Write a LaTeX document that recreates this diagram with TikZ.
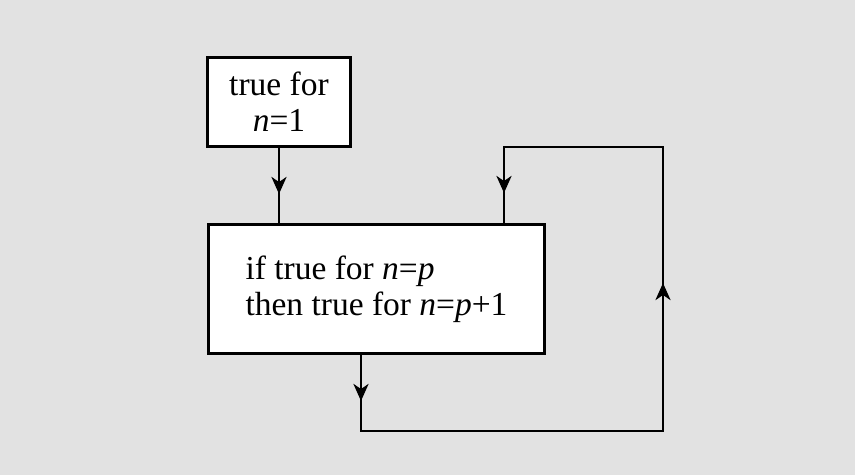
\documentclass[tikz,border=0pt]{standalone}
\usepackage{fontspec}
\setmainfont{Liberation Serif}
\usetikzlibrary{arrows.meta,decorations.markings}
\definecolor{bg}{RGB}{226,226,226}
\tikzset{
  box/.style={draw=black, line width=3pt, fill=white, inner sep=0pt,
    font=\fontsize{33.5}{36}\selectfont},
  wire/.style={line width=2.8pt},
  ahead/.tip={Stealth[length=17pt,width=15pt,inset=5pt]}
}
\begin{document}
\begin{tikzpicture}[x=1pt,y=-1pt]
\useasboundingbox (0,0) rectangle (855,475);
\fill[bg] (0,0) rectangle (855,475);

\node[box, minimum width=143pt, minimum height=89pt, align=center] (b1) at (279,102)
  {true for\\\textit{n}=1};
\node[box, minimum width=336pt, minimum height=129pt, align=left] (b2) at (376.5,289)
  {if true for \textit{n}=\textit{p}\\then true for \textit{n}=\textit{p}+1};

\coordinate (c1) at (361,431);
\coordinate (c2) at (663,431);
\coordinate (c3) at (663,147);
\coordinate (c4) at (504,147);

\draw[wire, decoration={markings, mark=at position 46pt with {\arrow{ahead}}}, postaction=decorate]
  (b1.south) -- (b1.south |- b2.north);

\draw[wire, decoration={markings,
    mark=at position 46pt with {\arrow{ahead}},
    mark=at position 526pt with {\arrow{ahead}},
    mark=at position 867pt with {\arrow{ahead}}}, postaction=decorate]
  (b2.south -| c1) -- (c1) -- (c2) -- (c3) -- (c4) -- (c4 |- b2.north);
\end{tikzpicture}
\end{document}
